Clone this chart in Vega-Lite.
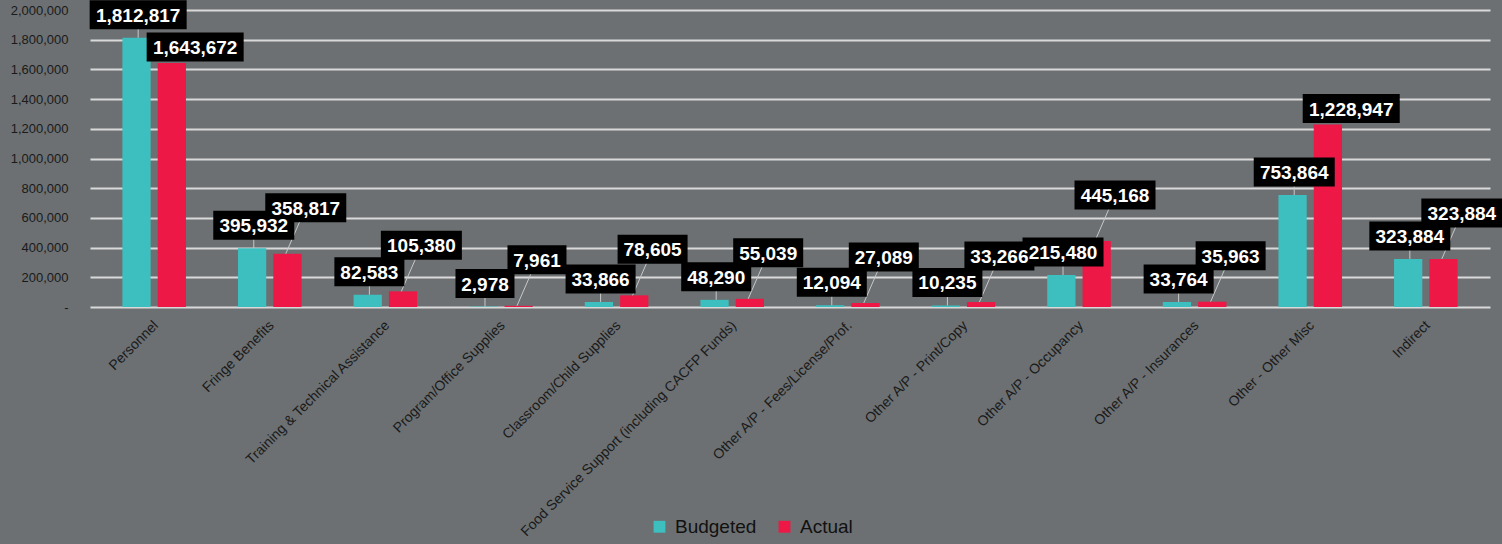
{
  "$schema": "https://vega.github.io/schema/vega-lite/v6.json",
  "width": 1400,
  "height": 297,
  "autosize": "none",
  "padding": {"left": 90, "top": 10, "right": 12, "bottom": 237},
  "background": "#6c7072",
  "config": {"view": {"stroke": null}, "font": "Liberation Sans"},
  "data": {
    "values": [
      {"category": "Personnel", "series": "Budgeted", "value": 1812817},
      {"category": "Personnel", "series": "Actual", "value": 1643672},
      {"category": "Fringe Benefits", "series": "Budgeted", "value": 395932},
      {"category": "Fringe Benefits", "series": "Actual", "value": 358817},
      {"category": "Training & Technical Assistance", "series": "Budgeted", "value": 82583},
      {"category": "Training & Technical Assistance", "series": "Actual", "value": 105380},
      {"category": "Program/Office Supplies", "series": "Budgeted", "value": 2978},
      {"category": "Program/Office Supplies", "series": "Actual", "value": 7961},
      {"category": "Classroom/Child Supplies", "series": "Budgeted", "value": 33866},
      {"category": "Classroom/Child Supplies", "series": "Actual", "value": 78605},
      {"category": "Food Service Support (including CACFP Funds)", "series": "Budgeted", "value": 48290},
      {"category": "Food Service Support (including CACFP Funds)", "series": "Actual", "value": 55039},
      {"category": "Other A/P - Fees/License/Prof.", "series": "Budgeted", "value": 12094},
      {"category": "Other A/P - Fees/License/Prof.", "series": "Actual", "value": 27089},
      {"category": "Other A/P - Print/Copy", "series": "Budgeted", "value": 10235},
      {"category": "Other A/P - Print/Copy", "series": "Actual", "value": 33266},
      {"category": "Other A/P - Occupancy", "series": "Budgeted", "value": 215480},
      {"category": "Other A/P - Occupancy", "series": "Actual", "value": 445168},
      {"category": "Other A/P - Insurances", "series": "Budgeted", "value": 33764},
      {"category": "Other A/P - Insurances", "series": "Actual", "value": 35963},
      {"category": "Other - Other Misc", "series": "Budgeted", "value": 753864},
      {"category": "Other - Other Misc", "series": "Actual", "value": 1228947},
      {"category": "Indirect", "series": "Budgeted", "value": 323884},
      {"category": "Indirect", "series": "Actual", "value": 323884}
    ]
  },
  "encoding": {
    "x": {
      "field": "category",
      "type": "nominal",
      "sort": null,
      "scale": {"paddingInner": 0.45, "paddingOuter": 0.28},
      "axis": {
        "title": null,
        "labelAngle": -45,
        "labelAlign": "right",
        "labelBaseline": "middle",
        "labelFontSize": 14,
        "labelColor": "#1a1a1a",
        "labelLimit": 400,
        "labelPadding": 16,
        "labelOffset": 2,
        "ticks": false,
        "domain": false
      }
    },
    "y": {
      "field": "value",
      "type": "quantitative",
      "scale": {"domain": [0, 2000000], "nice": false},
      "axis": {
        "title": null,
        "values": [0, 200000, 400000, 600000, 800000, 1000000, 1200000, 1400000, 1600000, 1800000, 2000000],
        "labelExpr": "datum.value == 0 ? '-' : format(datum.value, ',')",
        "labelFontSize": 13,
        "labelColor": "#1a1a1a",
        "labelPadding": 22,
        "grid": true,
        "gridColor": "#d9d9d9",
        "gridWidth": 2,
        "ticks": false,
        "domain": false
      }
    }
  },
  "layer": [
    {
      "mark": {"type": "bar"},
      "encoding": {
        "xOffset": {"field": "series", "type": "nominal", "scale": {"domain": ["Budgeted", "Actual"], "paddingInner": 0.2, "paddingOuter": 0}},
        "color": {
          "field": "series",
          "type": "nominal",
          "scale": {"domain": ["Budgeted", "Actual"], "range": ["#3dbfc0", "#ee1847"]},
          "legend": {
            "orient": "none",
            "legendX": 560,
            "legendY": 507,
            "direction": "horizontal",
            "title": null,
            "symbolType": "square",
            "symbolSize": 140,
            "symbolStrokeWidth": 0,
            "labelFontSize": 19,
            "labelColor": "#111111",
            "columnPadding": 18,
            "labelOffset": 6
          }
        }
      }
    },
    {
      "transform": [{"filter": "datum.series == 'Budgeted'"}],
      "mark": {"type": "rule", "color": "#c8c8c8", "strokeWidth": 1, "xOffset": -16, "x2Offset": -16, "yOffset": 0, "y2Offset": -23},
      "encoding": {"x2": {"field": "category"}, "y2": {"field": "value"}}
    },
    {
      "transform": [{"filter": "datum.series == 'Actual' && datum.value < 1000000"}],
      "mark": {"type": "rule", "color": "#c8c8c8", "strokeWidth": 1, "xOffset": 16, "x2Offset": 36, "yOffset": 0, "y2Offset": -46},
      "encoding": {"x2": {"field": "category"}, "y2": {"field": "value"}}
    },
    {
      "transform": [{"filter": "datum.series == 'Budgeted'"}],
      "mark": {"type": "point", "filled": true, "color": "#000000", "opacity": 1, "size": 400, "xOffset": -16, "yOffset": -23},
      "encoding": {
        "shape": {
          "condition": [
            {"test": "datum.value >= 1000000", "value": "M-4.85,-1.45H4.85V1.45H-4.85Z"},
            {"test": "datum.value >= 100000", "value": "M-4.05,-1.45H4.05V1.45H-4.05Z"},
            {"test": "datum.value >= 10000", "value": "M-3.5,-1.45H3.5V1.45H-3.5Z"}
          ],
          "value": "M-2.95,-1.45H2.95V1.45H-2.95Z"
        }
      }
    },
    {
      "transform": [{"filter": "datum.series == 'Actual' && datum.value < 1000000"}],
      "mark": {"type": "point", "filled": true, "color": "#000000", "opacity": 1, "size": 400, "xOffset": 36, "yOffset": -46},
      "encoding": {
        "shape": {
          "condition": [
            {"test": "datum.value >= 100000", "value": "M-4.05,-1.45H4.05V1.45H-4.05Z"},
            {"test": "datum.value >= 10000", "value": "M-3.5,-1.45H3.5V1.45H-3.5Z"}
          ],
          "value": "M-2.95,-1.45H2.95V1.45H-2.95Z"
        }
      }
    },
    {
      "transform": [{"filter": "datum.series == 'Actual' && datum.value >= 1000000"}],
      "mark": {"type": "point", "filled": true, "color": "#000000", "opacity": 1, "size": 400, "shape": "M-4.85,-1.45H4.85V1.45H-4.85Z", "xOffset": 41, "yOffset": -16},
      "encoding": {}
    },
    {
      "transform": [{"filter": "datum.series == 'Budgeted'"}],
      "mark": {"type": "text", "color": "#ffffff", "fontWeight": "bold", "fontSize": 19, "align": "center", "baseline": "middle", "xOffset": -16, "yOffset": -22},
      "encoding": {"text": {"field": "value", "type": "quantitative", "format": ","}}
    },
    {
      "transform": [{"filter": "datum.series == 'Actual' && datum.value < 1000000"}],
      "mark": {"type": "text", "color": "#ffffff", "fontWeight": "bold", "fontSize": 19, "align": "center", "baseline": "middle", "xOffset": 36, "yOffset": -45},
      "encoding": {"text": {"field": "value", "type": "quantitative", "format": ","}}
    },
    {
      "transform": [{"filter": "datum.series == 'Actual' && datum.value >= 1000000"}],
      "mark": {"type": "text", "color": "#ffffff", "fontWeight": "bold", "fontSize": 19, "align": "center", "baseline": "middle", "xOffset": 41, "yOffset": -15},
      "encoding": {"text": {"field": "value", "type": "quantitative", "format": ","}}
    }
  ]
}
